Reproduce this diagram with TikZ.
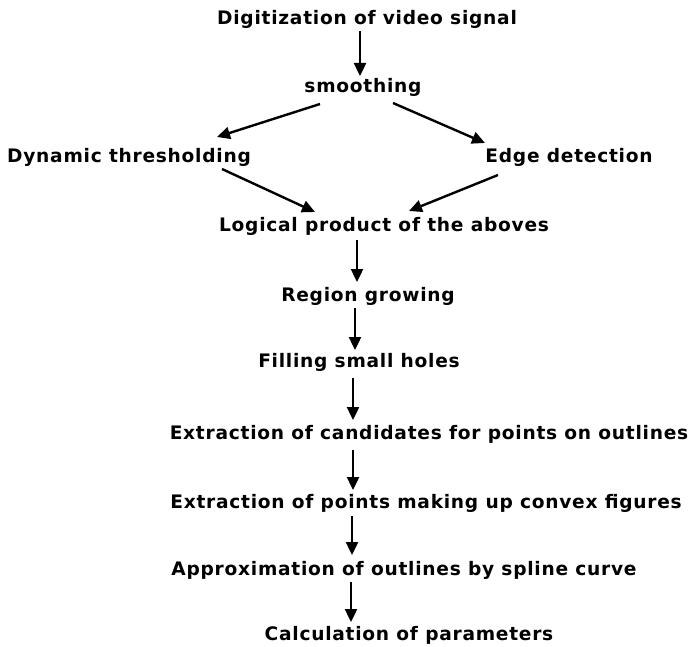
\documentclass[tikz,border=0pt]{standalone}
\usepackage{fontspec}
\newfontfamily\stepfont{DejaVu Sans}[LetterSpace=4, UprightFont=*, BoldFont=* Bold]
\usetikzlibrary{arrows.meta}
\tikzset{
  lbl/.style={inner sep=0pt, font=\fontsize{18.6}{22}\stepfont\bfseries, anchor=base},
  arr/.style={line width=2.4pt, -{Triangle[length=13pt,width=12pt]}},
}
\begin{document}
\begin{tikzpicture}[x=1pt, y=-1pt]
\useasboundingbox (0,0) rectangle (690,647);
% process steps, placed by baseline
\node[lbl] (dig)  at (367,25)  {Digitization of video signal};
\node[lbl] (smo)  at (363,93)  {smoothing};
\node[lbl] (dyn)  at (129,163) {Dynamic thresholding};
\node[lbl] (edge) at (569,163) {Edge detection};
\node[lbl] (log)  at (384,231) {Logical product of the aboves};
\node[lbl] (reg)  at (368,301) {Region growing};
\node[lbl] (fill) at (359,367) {Filling small holes};
\node[lbl] (cand) at (429,439) {Extraction of candidates for points on outlines};
\node[lbl] (conv) at (426,508) {Extraction of points making up convex figures};
\node[lbl] (appr) at (404,575) {Approximation of outlines by spline curve};
\node[lbl] (calc) at (409,640) {Calculation of parameters};
% connectors
\draw[arr] ([shift={(-7,6)}]dig.base)    -- ([shift={(-3,-17)}]smo.base);
\draw[arr] ([shift={(-43,11)}]smo.base)  -- ([shift={(88,-26)}]dyn.base);
\draw[arr] ([shift={(30,10)}]smo.base)   -- ([shift={(-84,-20)}]edge.base);
\draw[arr] ([shift={(93,6)}]dyn.base)    -- ([shift={(-69,-19)}]log.base);
\draw[arr] ([shift={(-71,12)}]edge.base) -- ([shift={(25,-20)}]log.base);
\draw[arr] ([shift={(-27,9)}]log.base)   -- ([shift={(-11,-19)}]reg.base);
\draw[arr] ([shift={(-13,7)}]reg.base)   -- ([shift={(-4,-17)}]fill.base);
\draw[arr] ([shift={(-6,11)}]fill.base)  -- ([shift={(-76,-19)}]cand.base);
\draw[arr] ([shift={(-76,11)}]cand.base) -- ([shift={(-73,-18)}]conv.base);
\draw[arr] ([shift={(-74,8)}]conv.base)  -- ([shift={(-52,-20)}]appr.base);
\draw[arr] ([shift={(-53,7)}]appr.base)  -- ([shift={(-58,-18)}]calc.base);
\end{tikzpicture}
\end{document}
